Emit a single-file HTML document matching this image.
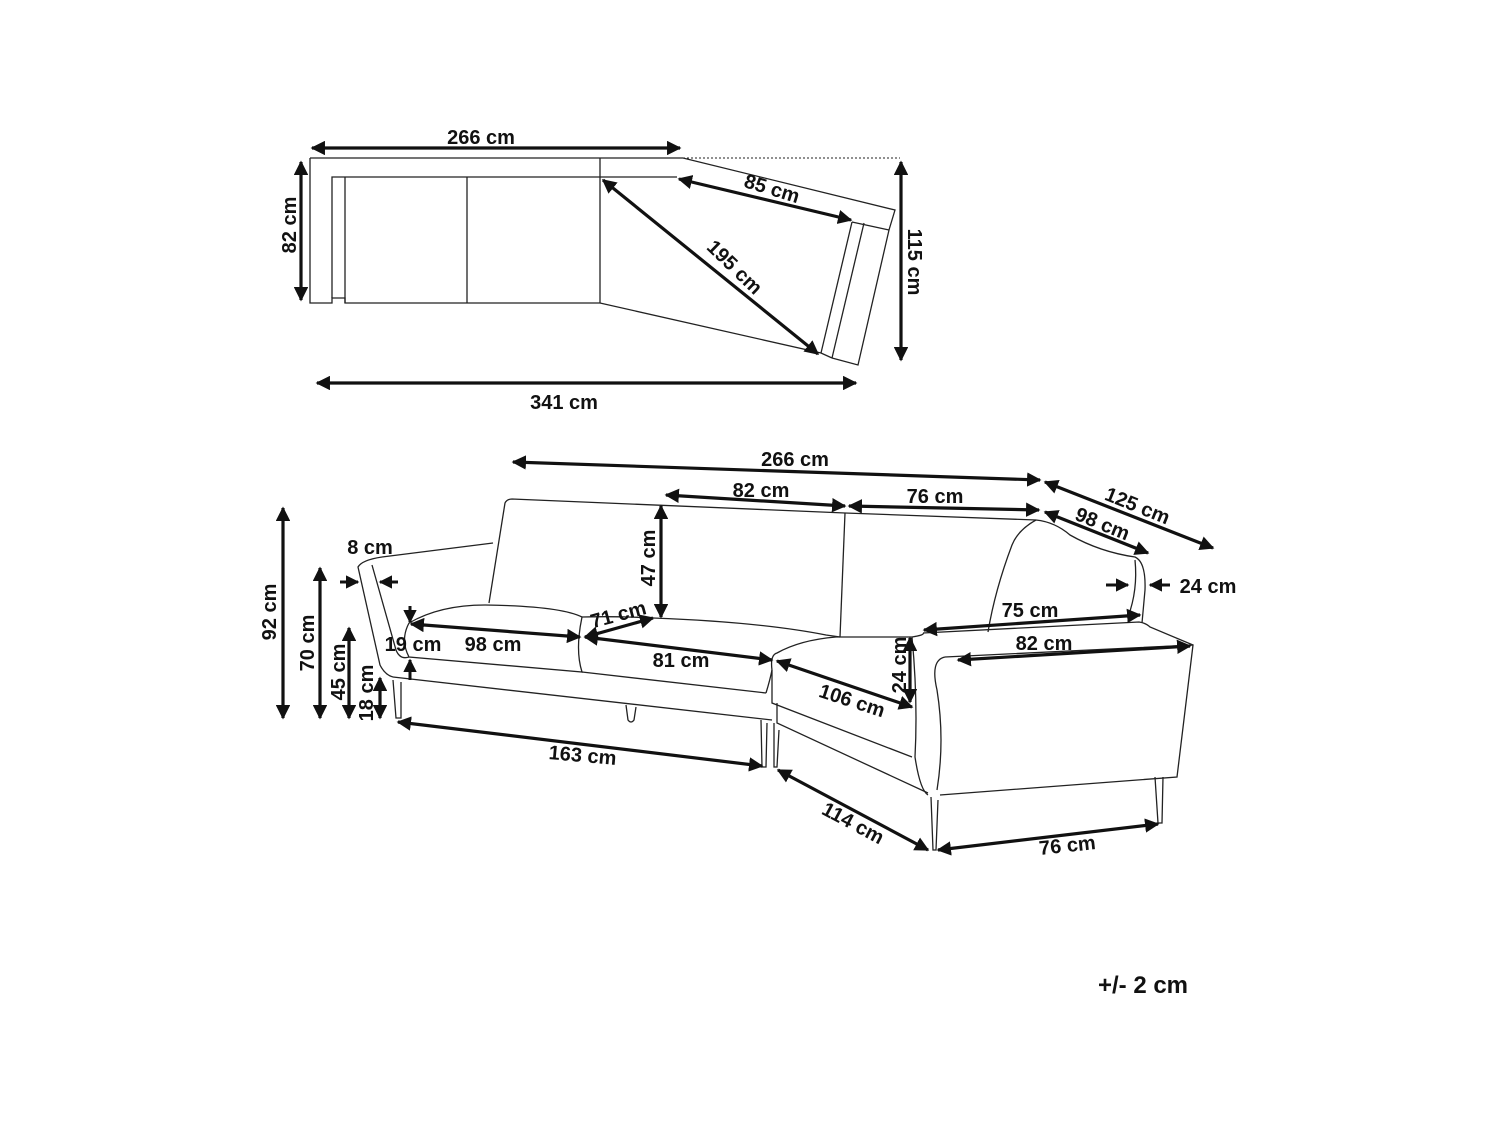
<!DOCTYPE html>
<html><head><meta charset="utf-8"><style>
html,body{margin:0;padding:0;background:#fff;}
svg{display:block;}
text{font-family:"Liberation Sans",sans-serif;font-weight:bold;font-size:20px;fill:#111;}
</style></head><body>
<svg width="1500" height="1125" viewBox="0 0 1500 1125" xmlns="http://www.w3.org/2000/svg">
<defs>
<marker id="a" viewBox="0 0 10 10" refX="9" refY="5" markerWidth="4.5" markerHeight="4.5" orient="auto-start-reverse"><path d="M0,0 L10,5 L0,10 Z" fill="#111"/></marker>
</defs>
<g fill="none" stroke="#222" stroke-width="1.3">
<polyline points="310,158 683,158 895,210 889,230 858,365 832,358"/>
<polyline points="310,158 310,303 332,303 332,298 345,298 345,303 600,303 821,353 832,358"/>
<polyline points="332,298 332,177 677,177"/>
<line x1="345" y1="177" x2="345" y2="303"/>
<line x1="467" y1="177" x2="467" y2="303"/>
<line x1="600" y1="158" x2="600" y2="303"/>
<line x1="852" y1="222" x2="821" y2="353"/>
<line x1="864" y1="223" x2="832" y2="358"/>
<line x1="852" y1="222" x2="889" y2="230"/>
<line x1="683" y1="158" x2="900" y2="158" stroke-dasharray="2,2" stroke-width="1"/>
<path d="M489,603 L505,503 Q507,499 512,499 L845,513 L1036,520"/>
<path d="M1036,520 Q1018,530 1012,545 Q995,590 988,632"/>
<line x1="845" y1="513" x2="840" y2="637"/>
<path d="M1036,520 Q1055,522 1070,535 Q1100,552 1135,557 Q1146,562 1145,590 L1142,623"/>
<path d="M1135,560 Q1138,590 1128,617"/>
<path d="M382,557 L493,543"/>
<path d="M382,557 Q362,560 358,567 L380,665 Q385,675 393,677"/>
<path d="M372,565 L396,650 Q400,660 409,657"/>
<path d="M409,657 Q400,640 409,623 Q440,605 485,605 Q560,606 582,617 Q575,650 582,672 Z"/>
<path d="M582,672 L766,693"/>
<path d="M582,617 Q615,616 653,618 Q760,622 826,635 L840,637"/>
<path d="M766,693 Q770,680 772,670"/>
<path d="M393,677 L772,720"/>
<path d="M393,680 L396,718 L401,718 L401,682"/>
<path d="M626,705 L628,720 Q631,724 634,720 L636,707"/>
<path d="M761,720 L762,767 L766,767 L767,723"/>
<path d="M774,723 L774,767 L777,767 L779,730"/>
<path d="M772,670 Q770,655 777,653 Q800,640 836,637 L912,637 Q925,635 923,633"/>
<path d="M772,670 L772,703 L912,757"/>
<path d="M777,703 L777,723 L928,793"/>
<path d="M912,637 Q918,700 915,757 Q920,790 928,795"/>
<path d="M923,633 L1139,622 Q1146,623 1150,627 L1193,645"/>
<path d="M945,657 Q930,660 937,690 Q945,740 937,790"/>
<path d="M945,657 L1193,645 L1177,777 L940,795"/>
<path d="M931,797 L933,850 L936,850 L938,800"/>
<path d="M1155,777 L1158,823 L1162,823 L1163,777"/>
</g>
<g stroke="#111" stroke-width="3.2" fill="none" marker-start="url(#a)" marker-end="url(#a)">
<line x1="312" y1="148" x2="680" y2="148"/>
<line x1="301" y1="162" x2="301" y2="300"/>
<line x1="901" y1="162" x2="901" y2="360"/>
<line x1="317" y1="383" x2="856" y2="383"/>
<line x1="679" y1="179" x2="851" y2="220"/>
<line x1="603" y1="180" x2="818" y2="354"/>
<line x1="513" y1="462" x2="1040" y2="480"/>
<line x1="666" y1="495" x2="845" y2="506"/>
<line x1="849" y1="506" x2="1039" y2="510"/>
<line x1="1045" y1="482" x2="1213" y2="548"/>
<line x1="1045" y1="512" x2="1148" y2="553"/>
<line x1="283" y1="508" x2="283" y2="718"/>
<line x1="320" y1="568" x2="320" y2="718"/>
<line x1="349" y1="628" x2="349" y2="718"/>
<line x1="380" y1="678" x2="380" y2="718"/>
<line x1="661" y1="506" x2="661" y2="617"/>
<line x1="411" y1="624" x2="580" y2="637"/>
<line x1="585" y1="637" x2="653" y2="618"/>
<line x1="585" y1="637" x2="772" y2="660"/>
<line x1="777" y1="661" x2="912" y2="707"/>
<line x1="910" y1="638" x2="910" y2="702"/>
<line x1="924" y1="630" x2="1140" y2="615"/>
<line x1="958" y1="660" x2="1190" y2="646"/>
<line x1="398" y1="722" x2="762" y2="766"/>
<line x1="778" y1="770" x2="928" y2="850"/>
<line x1="938" y1="850" x2="1158" y2="824"/>
</g>
<g stroke="#111" stroke-width="3" fill="none" marker-end="url(#a)">
<line x1="340" y1="582" x2="358" y2="582"/>
<line x1="398" y1="582" x2="380" y2="582"/>
<line x1="1106" y1="585" x2="1128" y2="585"/>
<line x1="1170" y1="585" x2="1150" y2="585"/>
<line x1="410" y1="606" x2="410" y2="622"/>
<line x1="410" y1="680" x2="410" y2="660"/>
</g>
<text x="481" y="144" text-anchor="middle">266 cm</text>
<text x="564" y="409" text-anchor="middle">341 cm</text>
<text transform="translate(296,225) rotate(-90)" text-anchor="middle">82 cm</text>
<text transform="translate(908,262) rotate(90)" text-anchor="middle">115 cm</text>
<text transform="translate(770,195) rotate(17)" text-anchor="middle">85 cm</text>
<text transform="translate(730,272) rotate(44)" text-anchor="middle">195 cm</text>
<text x="795" y="466" text-anchor="middle">266 cm</text>
<text x="761" y="497" text-anchor="middle">82 cm</text>
<text x="935" y="503" text-anchor="middle">76 cm</text>
<text transform="translate(1135,512) rotate(22)" text-anchor="middle">125 cm</text>
<text transform="translate(1100,530) rotate(22)" text-anchor="middle">98 cm</text>
<text x="370" y="554" text-anchor="middle">8 cm</text>
<text x="1208" y="593" text-anchor="middle">24 cm</text>
<text transform="translate(276,612) rotate(-90)" text-anchor="middle">92 cm</text>
<text transform="translate(314,643) rotate(-90)" text-anchor="middle">70 cm</text>
<text transform="translate(345,672) rotate(-90)" text-anchor="middle">45 cm</text>
<text transform="translate(373,693) rotate(-90)" text-anchor="middle">18 cm</text>
<text transform="translate(655,558) rotate(-90)" text-anchor="middle">47 cm</text>
<text x="413" y="651" text-anchor="middle">19 cm</text>
<text x="493" y="651" text-anchor="middle">98 cm</text>
<text transform="translate(620,621) rotate(-15)" text-anchor="middle">71 cm</text>
<text x="681" y="667" text-anchor="middle">81 cm</text>
<text transform="translate(850,707) rotate(18)" text-anchor="middle">106 cm</text>
<text transform="translate(906,665) rotate(-90)" text-anchor="middle">24 cm</text>
<text x="1030" y="617" text-anchor="middle">75 cm</text>
<text x="1044" y="650" text-anchor="middle">82 cm</text>
<text transform="translate(582,762) rotate(5)" text-anchor="middle">163 cm</text>
<text transform="translate(850,829) rotate(28)" text-anchor="middle">114 cm</text>
<text transform="translate(1068,852) rotate(-6)" text-anchor="middle">76 cm</text>
<text x="1143" y="993" text-anchor="middle" style="font-size:24px">+/- 2 cm</text>
</svg>
</body></html>
